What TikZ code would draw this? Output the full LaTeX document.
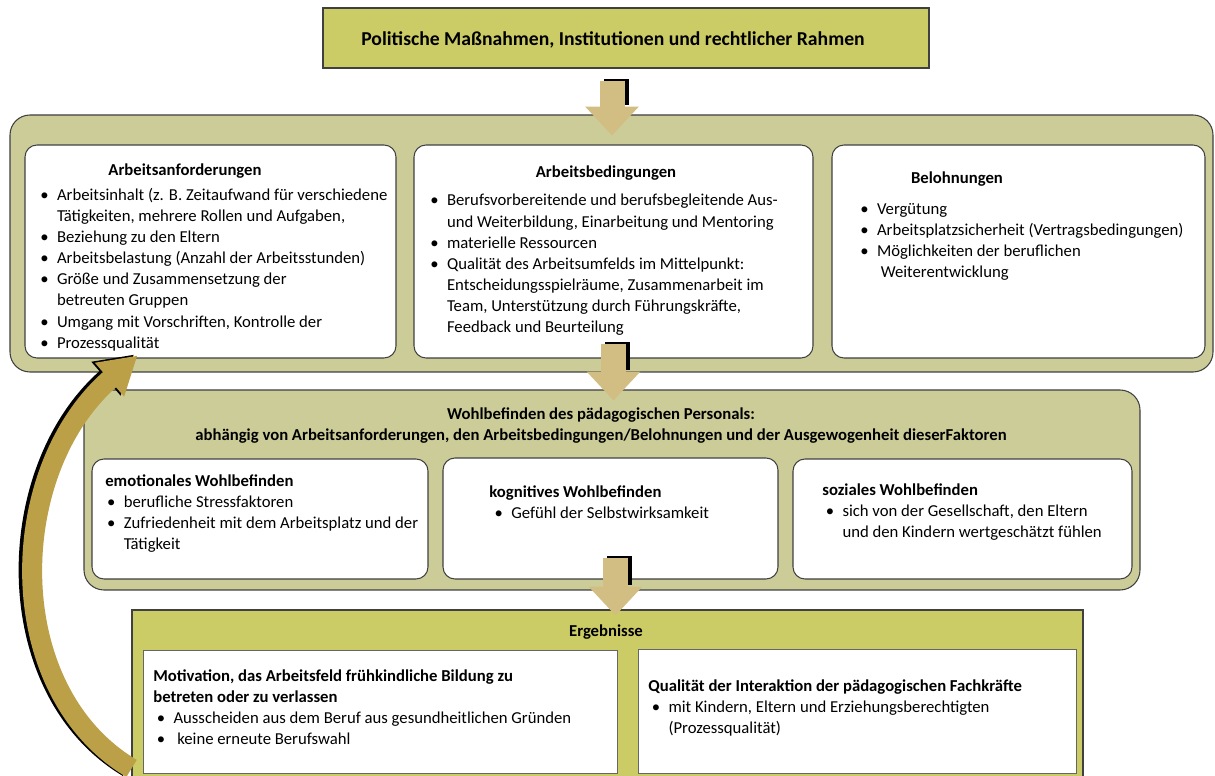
\documentclass[tikz,border=0pt]{standalone}
\usepackage{fontspec}
\setmainfont{Carlito}
\usepackage{xcolor}
\definecolor{polFill}{RGB}{204, 204, 102}
\definecolor{grpFill}{RGB}{204, 204, 153}
\definecolor{arrFill}{RGB}{210, 190, 130}
\definecolor{loopFill}{RGB}{187, 160, 72}
\definecolor{boxLine}{RGB}{64, 64, 64}
\usepackage{tikz}
\usetikzlibrary{
    arrows.meta,
    positioning,
    fit,
    calc
}
\newcommand{\bodyfont}{\fontsize{9.5}{12}\selectfont}
\newcommand{\bl}{\makebox[9.5pt][l]{\textbullet}}
\newcommand{\ind}{\hspace*{9.5pt}}

\begin{document}
\begin{tikzpicture}[
    x=0.02cm, y=-0.02cm,
    polBox/.style={
        rectangle, draw=boxLine, line width=0.6pt,
        fill=polFill, inner sep=0pt
    },
    grpBox/.style={
        rectangle, rounded corners=0.4cm,
        draw=boxLine, line width=0.6pt,
        fill=grpFill, inner sep=0pt
    },
    inBox/.style={
        rectangle, rounded corners=0.24cm,
        draw=boxLine, line width=0.6pt,
        fill=white, inner sep=0pt
    },
    ergBox/.style={
        rectangle, draw=boxLine!80, line width=0.5pt,
        fill=white, inner sep=0pt
    },
    boxTitle/.style={
        anchor=base, inner sep=0pt, font=\bodyfont\bfseries
    },
    boxText/.style={
        anchor=north west, inner sep=0pt, align=left, font=\bodyfont
    },
    downArrow/.style={
        line width=0.5cm, draw=arrFill,
        -{Triangle[width=1.04cm, length=0.58cm]}
    },
    arrShadow/.style={
        line width=0.5cm, draw=black, shorten >=0.58cm,
        transform canvas={xshift=0.08cm, yshift=0.03cm}
    },
    loopArrow/.style={
        line width=0.4cm, draw=loopFill,
        -{Triangle[width=0.84cm, length=0.74cm]}
    },
    loopShadow/.style={
        line width=0.4cm, draw=black,
        -{Triangle[width=0.84cm, length=0.74cm]},
        transform canvas={xshift=-0.07cm, yshift=0.02cm}
    }
]

    \useasboundingbox (0,0) rectangle (1215,776);
    \clip (0,0) rectangle (1215,776);

    % Policy frame
    \node[polBox, fit={(323,8) (929,68)}] (polTop) {};
    \node[anchor=base, inner sep=0pt, font=\fontsize{11.2}{13}\selectfont\bfseries]
        (polTitle) at (613,46) {Politische Maßnahmen, Institutionen und rechtlicher Rahmen};

    % Working conditions group
    \node[grpBox, fit={(10,115) (1213,372)}] (grpArb) {};
    \node[inBox, fit={(25,145) (396,358)}] (anf) {};
    \node[inBox, fit={(414,145) (813,358)}] (bed) {};
    \node[inBox, fit={(832,145) (1205,358)}] (bel) {};

    \node[boxTitle] (anfTitle) at (185,176) {Arbeitsanforderungen};
    \node[boxText] (anfTxt) at (40,188) {%
        \bl Arbeitsinhalt (z. B. Zeitaufwand für verschiedene\\
        \ind Tätigkeiten, mehrere Rollen und Aufgaben,\\
        \bl Beziehung zu den Eltern\\
        \bl Arbeitsbelastung (Anzahl der Arbeitsstunden)\\
        \bl Größe und Zusammensetzung der\\
        \ind betreuten Gruppen\\
        \bl Umgang mit Vorschriften, Kontrolle der\\
        \bl Prozessqualität};

    \node[boxTitle] (bedTitle) at (606,178) {Arbeitsbedingungen};
    \node[boxText] (bedTxt) at (430,194) {%
        \bl Berufsvorbereitende und berufsbegleitende Aus-\\
        \ind und Weiterbildung, Einarbeitung und Mentoring\\
        \bl materielle Ressourcen\\
        \bl Qualität des Arbeitsumfelds im Mittelpunkt:\\
        \ind Entscheidungsspielräume, Zusammenarbeit im\\
        \ind Team, Unterstützung durch Führungskräfte,\\
        \ind Feedback und Beurteilung};

    \node[boxTitle] (belTitle) at (957,184) {Belohnungen};
    \node[boxText] (belTxt) at (860,203) {%
        \bl Vergütung\\
        \bl Arbeitsplatzsicherheit (Vertragsbedingungen)\\
        \bl Möglichkeiten der beruflichen\\
        \ind\ Weiterentwicklung};

    % Well-being group
    \node[grpBox, fit={(84,390) (1140,590)}] (grpWohl) {};
    \node[anchor=north, inner sep=0pt, align=center, font=\bodyfont\bfseries]
        (wohlTitle) at (601,407) {Wohlbefinden des pädagogischen Personals:\\
        abhängig von Arbeitsanforderungen, den Arbeitsbedingungen/Belohnungen und der Ausgewogenheit dieserFaktoren};
    \node[inBox, fit={(92,459) (428,579)}] (emo) {};
    \node[inBox, fit={(443,458) (778,579)}] (kog) {};
    \node[inBox, fit={(793,459) (1132,579)}] (soz) {};

    \node[boxText] (emoTxt) at (105,474) {%
        \textbf{emotionales Wohlbefinden}\\
        \hspace*{1pt}\bl berufliche Stressfaktoren\\
        \hspace*{1pt}\bl Zufriedenheit mit dem Arbeitsplatz und der\\
        \hspace*{1pt}\ind Tätigkeit};
    \node[boxText] (kogTxt) at (489,485) {%
        \textbf{kognitives Wohlbefinden}\\
        \hspace*{3pt}\bl Gefühl der Selbstwirksamkeit};
    \node[boxText] (sozTxt) at (822,483) {%
        \textbf{soziales Wohlbefinden}\\
        \hspace*{2pt}\bl sich von der Gesellschaft, den Eltern\\
        \hspace*{2pt}\ind und den Kindern wertgeschätzt fühlen};

    % Outcomes
    \node[polBox, fit={(132,610) (1083,790)}] (grpErg) {};
    \node[boxTitle] (ergTitle) at (606,637) {Ergebnisse};
    \node[ergBox, fit={(143,650) (617,773)}] (mot) {};
    \node[ergBox, fit={(638,649) (1076,773)}] (qual) {};

    \node[boxText] (motTxt) at (153,669) {%
        \textbf{Motivation, das Arbeitsfeld frühkindliche Bildung zu}\\
        \textbf{betreten oder zu verlassen}\\
        \hspace*{2pt}\bl Ausscheiden aus dem Beruf aus gesundheitlichen Gründen\\
        \hspace*{2pt}\bl\ keine erneute Berufswahl};
    \node[boxText] (qualTxt) at (648,679) {%
        \textbf{Qualität der Interaktion der pädagogischen Fachkräfte}\\
        \hspace*{2pt}\bl mit Kindern, Eltern und Erziehungsberechtigten\\
        \hspace*{2pt}\ind (Prozessqualität)};

    % Block arrows
    \draw[arrShadow] ([shift={(-14,12)}]polTop.south) -- ++(0,55);
    \draw[downArrow] ([shift={(-14,12)}]polTop.south) -- ++(0,55);
    \draw[arrShadow] ([shift={(0,-15)}]bed.south) -- ++(0,57);
    \draw[downArrow] ([shift={(0,-15)}]bed.south) -- ++(0,57);
    \draw[arrShadow] ([shift={(5,-22)}]kog.south) -- ++(0,58);
    \draw[downArrow] ([shift={(5,-22)}]kog.south) -- ++(0,58);

    % Feedback loop
    \coordinate (loopStart) at ([shift={(-11,-5)}]mot.south west);
    \coordinate (loopEnd) at ([shift={(113,-3)}]anf.south west);
    \draw[loopShadow] (loopStart) .. controls (0,690) and (5,470) .. (loopEnd);
    \draw[loopArrow] (loopStart) .. controls (0,690) and (5,470) .. (loopEnd);

\end{tikzpicture}
\end{document}
